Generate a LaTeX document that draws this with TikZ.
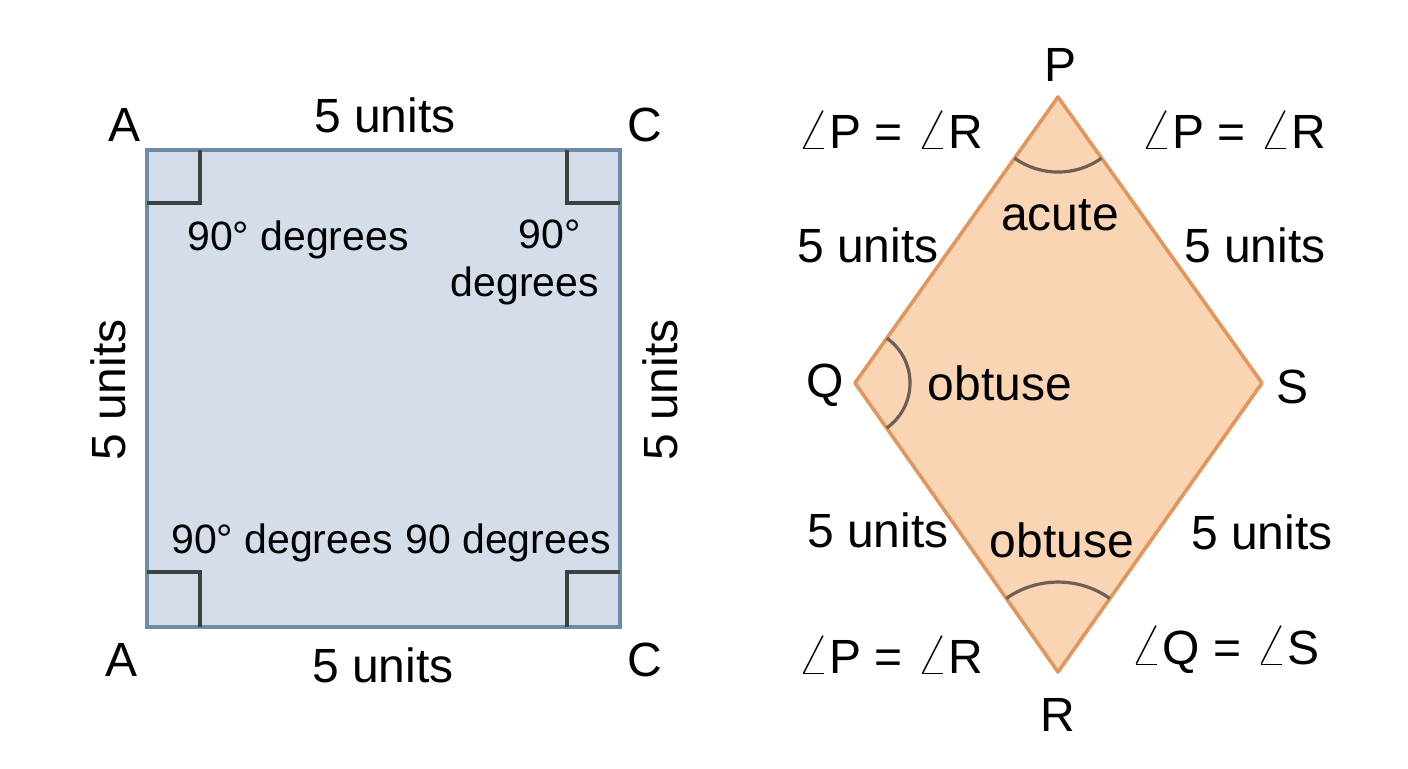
\documentclass[tikz,border=0pt]{standalone}
\usepackage{fontspec}
\setmainfont{Liberation Sans}
\newcommand{\myang}{{\fontsize{32}{32}\selectfont$\angle$}}
\begin{document}
\begin{tikzpicture}[x=0.5pt,y=0.5pt,
  lab/.style={font=\fontsize{24}{26}\selectfont,inner sep=0pt},
  deg/.style={font=\fontsize{20.5}{24}\selectfont,inner sep=0pt,align=center},
  rmark/.style={draw=black!75,line width=1.8pt},
  ang/.style={draw={rgb,255:red,110;green,95;blue,85},line width=1.6pt}]
\useasboundingbox (0,0) rectangle (1408,-768);
% square
\coordinate (TL) at (147,-150); \coordinate (BR) at (620,-627);
\draw[fill={rgb,255:red,211;green,222;blue,234},draw={rgb,255:red,110;green,140;blue,168},line width=1.8pt] (TL) rectangle (BR);
\draw[rmark] (147,-203) -- (200,-203) -- (200,-150);
\draw[rmark] (567,-150) -- (567,-203) -- (620,-203);
\draw[rmark] (147,-572) -- (200,-572) -- (200,-627);
\draw[rmark] (620,-572) -- (567,-572) -- (567,-627);
\node[lab] (a1) at (125,-125) {A};
\node[lab] (c1) at (645,-125) {C};
\node[lab] (a2) at (122,-660) {A};
\node[lab] (c2) at (645,-660) {C};
\node[lab] (st) at (385,-115) {5 units};
\node[lab] (sb) at (383,-665) {5 units};
\node[lab,rotate=90] (sl) at (108,-390) {5 units};
\node[lab,rotate=90] (sr) at (660,-390) {5 units};
\node[deg] (d1) at (298,-240) {90° degrees};
\node[deg] (d2) at (525,-262) {\hspace*{1.2em}90°\\degrees};
\node[deg] (d3) at (282,-543) {90° degrees};
\node[deg] (d4) at (508,-543) {90 degrees};
% rhombus
\coordinate (P) at (1058,-97); \coordinate (Q) at (855,-383);
\coordinate (S) at (1262,-383); \coordinate (R) at (1058,-672);
\draw[fill={rgb,255:red,250;green,213;blue,180},draw={rgb,255:red,224;green,150;blue,92},line width=1.8pt,line join=round] (P) -- (S) -- (R) -- (Q) -- cycle;
\draw[ang] (1014.6,-158.2) arc[start angle=234.6,end angle=305.4,radius=75];
\draw[ang] (886.9,-338.2) arc[start angle=54.6,end angle=-54.6,radius=55];
\draw[ang] (1109.8,-598.4) arc[start angle=54.9,end angle=125.1,radius=90];
\node[lab] (lp) at (1060,-65) {P};
\node[lab] (lq) at (825,-385) {Q};
\node[lab] (ls) at (1292,-387) {S};
\node[lab] (lr) at (1058,-715) {R};
\node[lab] (e1) at (890,-130) {\myang P = \myang R};
\node[lab] (e2) at (1233,-130) {\myang P = \myang R};
\node[lab] (e3) at (890,-655) {\myang P = \myang R};
\node[lab] (e4) at (1225,-650) {\myang Q = \myang S};
\node[lab] (ac) at (1060,-215) {acute};
\node[lab] (ob1) at (1000,-383) {obtuse};
\node[lab] (ob2) at (1062,-540) {obtuse};
\node[lab] (u1) at (868,-245) {5 units};
\node[lab] (u2) at (1255,-245) {5 units};
\node[lab] (u3) at (878,-530) {5 units};
\node[lab] (u4) at (1262,-532) {5 units};
\end{tikzpicture}
\end{document}
